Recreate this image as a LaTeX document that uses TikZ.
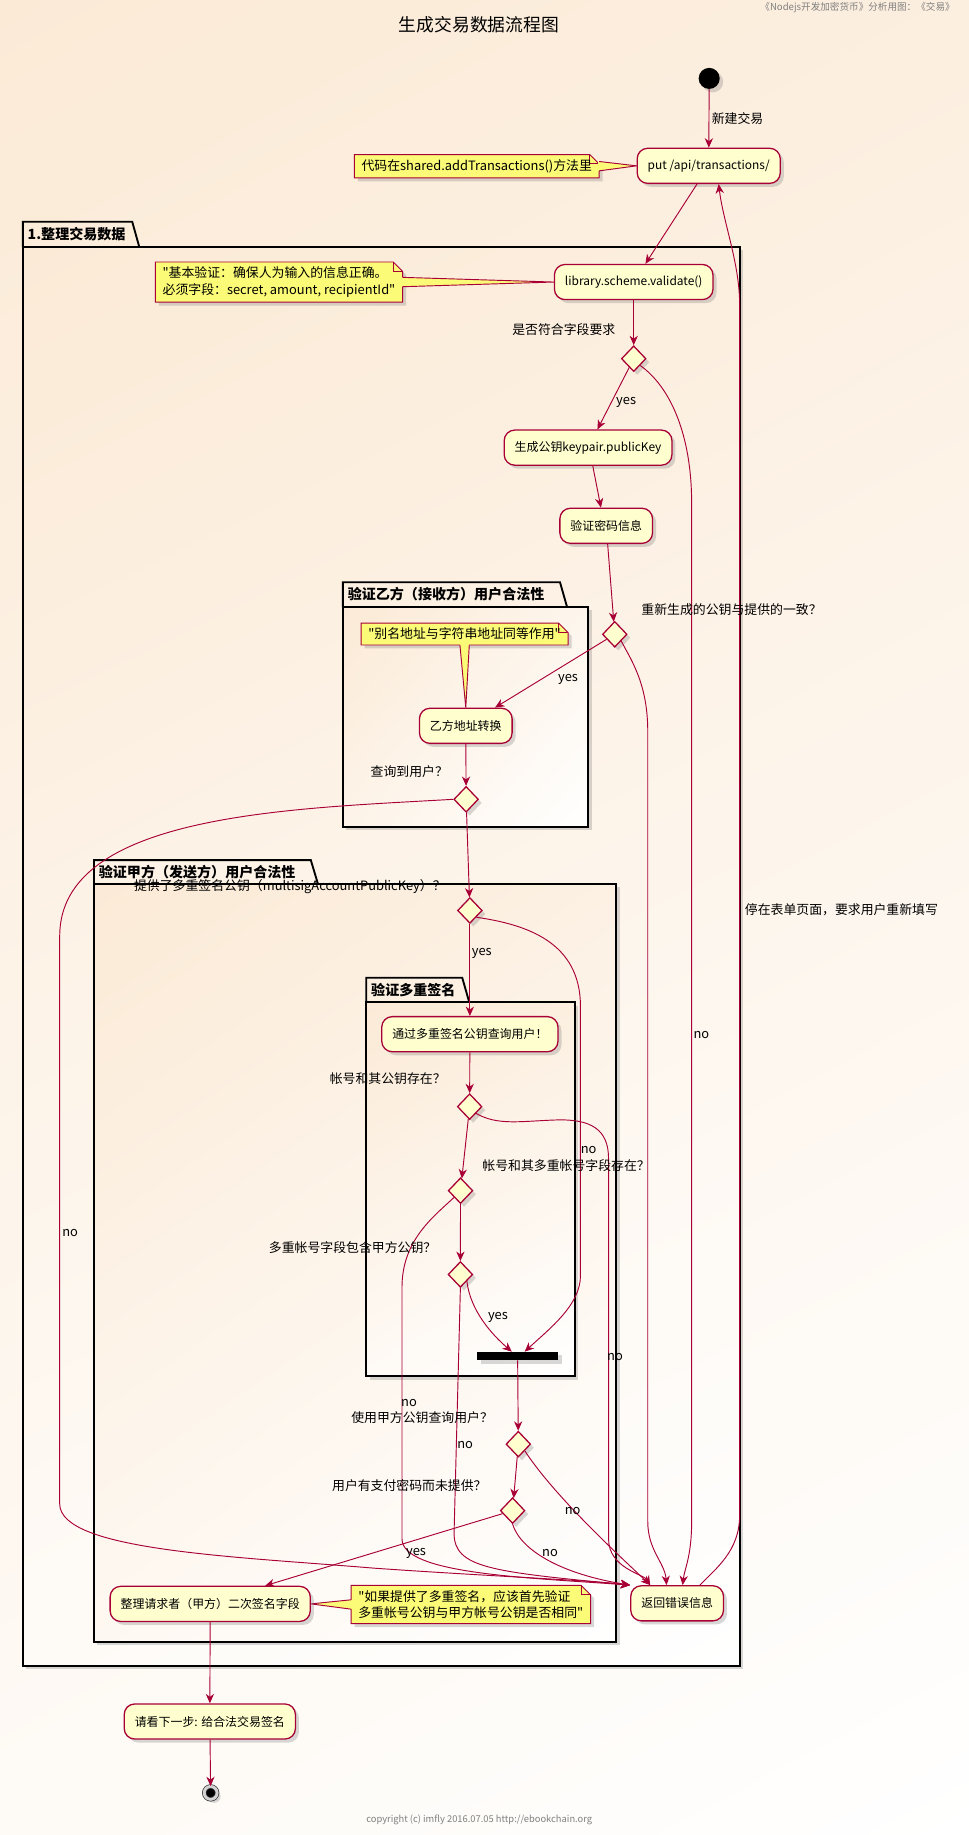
\documentclass[tikz,border=0pt]{standalone}
\usepackage{fontspec}
\setmainfont{Noto Sans CJK SC}[Ligatures=TeXOff]
\usetikzlibrary{shapes.geometric, arrows.meta, backgrounds, shadows, shadings}
\definecolor{umlRed}{HTML}{A80036}
\definecolor{umlFill}{HTML}{FEFECE}
\definecolor{umlNote}{HTML}{FBFB77}
\definecolor{bgPeach}{RGB}{251,234,214}

\begin{document}
\begin{tikzpicture}[x=1pt, y=-1pt,
            shdw/.style={drop shadow={shadow xshift=3pt, shadow yshift=-3pt, opacity=.3}},
            act/.style={rectangle, rounded corners=9pt, draw=umlRed, fill=umlFill, line width=1.1pt,
                minimum height=30pt, inner xsep=9pt, font=\fontsize{10.2}{12}\selectfont, shdw},
            cond/.style={diamond, draw=umlRed, fill=umlFill, line width=1.1pt, minimum width=21pt,
                minimum height=22pt, inner sep=0pt, shdw},
            startpt/.style={circle, fill=black, minimum size=18pt, inner sep=0pt, shdw},
            endpt/.style={circle, fill=black, draw=black!80, line width=0.6pt, minimum size=11pt,
                inner sep=0pt, double=gray!35, double distance=2.5pt, shdw},
            bar/.style={rectangle, fill=black, minimum width=69pt, minimum height=7pt, inner sep=0pt, shdw},
            notetxt/.style={align=left, inner xsep=6pt, inner ysep=4pt, font=\fontsize{11}{14}\selectfont},
            notebg/.style={fill=umlNote, draw=umlRed, line width=0.8pt, shdw},
            lbl/.style={font=\fontsize{11}{13}\selectfont, inner sep=1pt},
            flow/.style={draw=umlRed, line width=0.8pt, -{Stealth[length=8pt, width=7pt, inset=2.5pt]}},
            pkgline/.style={draw=black, line width=1.6pt},
            pkgtitle/.style={font=\bfseries\fontsize{12}{14}\selectfont, inner sep=0pt}]
            \useasboundingbox (0,0) rectangle (828,1568);
            \begin{scope}[on background layer]
                \shade[upper left=bgPeach, upper right=bgPeach!78!white, lower left=bgPeach!22!white,
                    lower right=white] (0,0) rectangle (828,1568);
                \foreach \xa/\yt/\xt/\yb/\xb/\yc/\ur/\ll/\pname [count=\i] in {
                    19.5/189.5/113/211/632/1423.5/80/20/{1.整理交易数据},
                    293/497.5/478.5/518.5/502.5/706.5/45/55/{验证乙方（接收方）用户合法性},
                    80.3/735/265.6/755/526.4/1403/68/32/{验证甲方（发送方）用户合法性},
                    313/835.5/395/856.5/491/1176/76/24/{验证多重签名}} {
                    \shade[upper left=bgPeach, upper right=bgPeach!\ur!white, lower left=bgPeach!\ll!white,
                        lower right=white, shdw] (\xa,\yb) rectangle (\xb,\yc);
                    \draw[pkgline] (\xa,\yb) rectangle (\xb,\yc);
                    \draw[pkgline] (\xa,\yb) -- (\xa,\yt) -- (\xt,\yt) -- (\xt+6,\yb);
                    \node[pkgtitle, anchor=west] (ptitle\i) at (\xa+4,{(\yt+\yb)/2}) {\pname};
                }
            \end{scope}
            % header, title and footer
            \node[font=\fontsize{8.2}{10}\selectfont, text=black!50, anchor=east, inner sep=0pt] (header) at (816,6.3)
                {《Nodejs开发加密货币》分析用图：《交易》};
            \node[font=\fontsize{15.2}{18}\selectfont] (title) at (409.3,21.4) {生成交易数据流程图};
            \node[font=\fontsize{8}{10}\selectfont, text=black!50, inner sep=0pt] (footer) at (409.5,1555)
                {copyright (c) imfly 2016.07.05 http://ebookchain.org};
            % activities and decisions
            \node[startpt] (start) at (606,67) {};
            \node[act] (put) at (605.6,141.7) {put /api/transactions/};
            \node[notetxt, anchor=east] (nput) at (512,142) {代码在shared.addTransactions()方法里};
            \node[act] (validate) at (541.5,241) {library.scheme.validate()};
            \node[notetxt, anchor=east] (nvalidate) at (344,241) {"基本验证：确保人为输入的信息正确。\\必须字段：secret, amount, recipientId"};
            \node[cond] (qfields) at (541.5,306.5) {};
            \node[act] (keypair) at (502.5,382.5) {生成公钥keypair.publicKey};
            \node[act] (checkpwd) at (518,449.3) {验证密码信息};
            \node[cond] (qkey) at (525.3,542) {};
            \node[act] (convert) at (398,620.2) {乙方地址转换};
            \node[notetxt] (nconvert) at (397,541.8) {"别名地址与字符串地址同等作用"};
            \node[cond] (qrecv) at (398.3,683) {};
            \node[cond] (qmulti) at (401.5,778) {};
            \node[act] (msquery) at (401.5,883.7) {通过多重签名公钥查询用户！};
            \node[cond] (qacct) at (401.3,945.6) {};
            \node[cond] (qmsfield) at (393.5,1017.4) {};
            \node[cond] (qcontain) at (393.4,1089) {};
            \node[bar] (join) at (442.3,1158.7) {};
            \node[cond] (qsender) at (442.9,1234) {};
            \node[cond] (qpwd) at (438,1290.8) {};
            \node[act] (sign2) at (179.6,1370.5) {整理请求者（甲方）二次签名字段};
            \node[notetxt, anchor=west] (nsign2) at (300,1371) {"如果提供了多重签名，应该首先验证\\多重帐号公钥与甲方帐号公钥是否相同"};
            \node[act] (error) at (578.6,1370) {返回错误信息};
            \node[act] (next) at (179.3,1471) {请看下一步: 给合法交易签名};
            \node[endpt] (stop) at (180,1532) {};
            % note shapes with folded corner, and their pointers
            \begin{scope}[on background layer]
                \foreach \n in {nput,nvalidate,nconvert,nsign2} {
                    \path[notebg] (\n.south west) -- (\n.north west) -- ([xshift=-8pt]\n.north east)
                        -- ([yshift=-8pt]\n.north east) -- (\n.south east) -- cycle;
                    \draw[umlRed, line width=0.8pt] ([xshift=-8pt]\n.north east) |- ([yshift=-8pt]\n.north east);
                }
                \fill[umlNote] ([xshift=-1pt,yshift=4pt]nput.east) -- (put.west) -- ([xshift=-1pt,yshift=-4pt]nput.east) -- cycle;
                \draw[umlRed, line width=0.8pt] ([yshift=4pt]nput.east) -- (put.west) -- ([yshift=-4pt]nput.east);
                \fill[umlNote] ([xshift=-1pt,yshift=4pt]nvalidate.east) -- (validate.west) -- ([xshift=-1pt,yshift=-4pt]nvalidate.east) -- cycle;
                \draw[umlRed, line width=0.8pt] ([yshift=4pt]nvalidate.east) -- (validate.west) -- ([yshift=-4pt]nvalidate.east);
                \fill[umlNote] ([xshift=-4pt,yshift=1pt]nconvert.south) -- (convert.north) -- ([xshift=4pt,yshift=1pt]nconvert.south) -- cycle;
                \draw[umlRed, line width=0.8pt] ([xshift=-4pt]nconvert.south) -- (convert.north) -- ([xshift=4pt]nconvert.south);
                \fill[umlNote] ([xshift=1pt,yshift=4pt]nsign2.west) -- (sign2.east) -- ([xshift=1pt,yshift=-4pt]nsign2.west) -- cycle;
                \draw[umlRed, line width=0.8pt] ([yshift=4pt]nsign2.west) -- (sign2.east) -- ([yshift=-4pt]nsign2.west);
            \end{scope}
            % flows
            \draw[flow] (start) -- (put);
            \draw[flow] ([xshift=-10pt]put.south) -- ([xshift=10pt]validate.north);
            \draw[flow] ([xshift=19.5pt]error.north) .. controls (612,1340) and (632,1325) .. (632,1295)
                -- (632,260) .. controls (632,225) and (618,190) .. ([xshift=8.5pt]put.south);
            \draw[flow] (validate) -- (qfields);
            \draw[flow] (qfields) -- ([xshift=8pt]keypair.north);
            \draw[flow] (qfields.south east) .. controls (572,330) and (591,370) .. (591,430)
                -- (591,1300) .. controls (591,1330) and (585,1340) .. ([xshift=4.7pt]error.north);
            \draw[flow] ([xshift=4pt]keypair.south) -- ([xshift=-4.5pt]checkpwd.north);
            \draw[flow] (checkpwd) -- (qkey);
            \draw[flow] (qkey) -- ([xshift=25pt]convert.north);
            \draw[flow] (qkey.south east) .. controls (540,565) and (553.5,585) .. (553.5,625)
                -- (553.5,1300) .. controls (553.5,1325) and (568,1335) .. ([xshift=-9pt]error.north);
            \draw[flow] (convert) -- (qrecv);
            \draw[flow] (qrecv.west) .. controls (250,691) and (51,695) .. (51,800) -- (51,1285)
                .. controls (51,1325) and (200,1330) .. (320,1340) .. controls (420,1347) and (500,1350) .. (error.north west);
            \draw[flow] (qrecv) -- (qmulti);
            \draw[flow] (qmulti) -- (msquery);
            \draw[flow] (qmulti.south east) .. controls (450,790) and (496,805) .. (496,860)
                -- (496,1090) .. controls (496,1115) and (470,1135) .. ([xshift=6pt]join.north);
            \draw[flow] (msquery) -- (qacct);
            \draw[flow] (qacct.south east) .. controls (425,962) and (445,958) .. (475,957)
                .. controls (505,956) and (520,965) .. (520,990) -- (520,1315)
                .. controls (520,1340) and (550,1345) .. ([xshift=-23pt]error.north);
            \draw[flow] (qacct) -- (qmsfield);
            \draw[flow] (qmsfield.south west) .. controls (370,1040) and (343.5,1060) .. (343.5,1100)
                -- (343.5,1315) .. controls (343.5,1345) and (450,1348) .. (error.north west);
            \draw[flow] (qmsfield) -- (qcontain);
            \draw[flow] (qcontain.south east) .. controls (402,1120) and (420,1140) .. ([xshift=-5pt]join.north);
            \draw[flow] (qcontain.south) -- (388,1310) .. controls (388,1340) and (420,1343) .. (error.north west);
            \draw[flow] (join) -- (qsender);
            \draw[flow] (qsender.south east) .. controls (475,1280) and (530,1330) .. ([xshift=-23pt]error.north);
            \draw[flow] (qsender) -- (qpwd);
            \draw[flow] (qpwd.south) .. controls (445,1325) and (480,1345) .. (error.north west);
            \draw[flow] (qpwd) -- ([xshift=47pt]sign2.north);
            \draw[flow] (sign2) -- (next);
            \draw[flow] (next) -- (stop);
            % flow labels
            \node[lbl, anchor=west] (lnew) at (607,101) {新建交易};
            \node[lbl, anchor=east] (lfields) at (527,282) {是否符合字段要求};
            \node[lbl] (lyes1) at (535,343.6) {yes};
            \node[lbl, anchor=west] (lkey) at (546.9,521) {重新生成的公钥与提供的一致？};
            \node[lbl] (lyes2) at (485.4,580.2) {yes};
            \node[lbl, anchor=east] (lrecv) at (384,659) {查询到用户？};
            \node[lbl, anchor=west] (lno3) at (52,1054) {no};
            \node[lbl, anchor=east] (lmulti) at (382,758) {提供了多重签名公钥（multisigAccountPublicKey）？};
            \node[lbl, anchor=west] (lyes4) at (402,814.5) {yes};
            \node[lbl, anchor=west] (lno1) at (591.5,884.4) {no};
            \node[lbl, anchor=west] (lback) at (635.3,777.6) {停在表单页面，要求用户重新填写};
            \node[lbl, anchor=east] (lacct) at (382,921.5) {帐号和其公钥存在？};
            \node[lbl] (lno4) at (503,982.5) {no};
            \node[lbl, anchor=west] (lmsfield) at (411,996) {帐号和其多重帐号字段存在？};
            \node[lbl, anchor=east] (lcontain) at (374,1066) {多重帐号字段包含甲方公钥？};
            \node[lbl] (lyes7) at (425.5,1125.6) {yes};
            \node[lbl] (lno5) at (525.5,1159.6) {no};
            \node[lbl] (lno6) at (349.5,1199) {no};
            \node[lbl, anchor=east] (lsender) at (422.4,1211) {使用甲方公钥查询用户？};
            \node[lbl] (lno7) at (397.5,1235) {no};
            \node[lbl, anchor=east] (lpwd) at (417,1269) {用户有支付密码而未提供？};
            \node[lbl] (lno8) at (489.3,1290.8) {no};
            \node[lbl] (lno9) at (470,1327.3) {no};
            \node[lbl] (lyes9) at (355.5,1327.5) {yes};
        \end{tikzpicture}
\end{document}
